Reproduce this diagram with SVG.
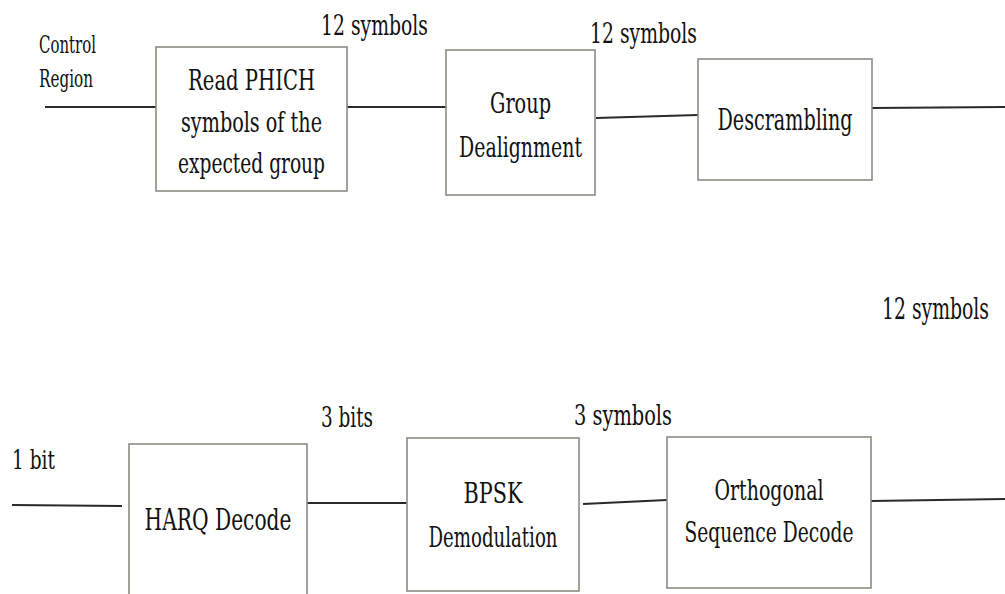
<svg xmlns="http://www.w3.org/2000/svg" width="1005" height="594" viewBox="0 0 1005 594">
<style>
.box{fill:#fff;stroke:#8c8c84;stroke-width:1.6}
.ln{stroke:#2a2a2a;stroke-width:2;fill:none}
.t{font-family:'DejaVu Serif','Liberation Serif',serif;font-size:24px;fill:#111}
.s{font-size:18.7px}
.m{text-anchor:middle}
</style>
<rect width="1005" height="594" fill="#fff"/>
<g id="connectors">
<line class="ln" x1="45" y1="107" x2="156" y2="107"/>
<line class="ln" x1="347" y1="107" x2="446" y2="107"/>
<line class="ln" x1="596" y1="118" x2="698" y2="115"/>
<line class="ln" x1="872" y1="108" x2="1005" y2="107"/>
<line class="ln" x1="12" y1="505" x2="122" y2="506"/>
<line class="ln" x1="307" y1="503" x2="407" y2="503"/>
<line class="ln" x1="583" y1="504" x2="667" y2="500"/>
<line class="ln" x1="871" y1="501" x2="1005" y2="499"/>
</g>
<g id="labels" class="t">
<text class="s" transform="translate(39 53) scale(1 1.25)" textLength="57" lengthAdjust="spacingAndGlyphs">Control</text>
<text class="s" transform="translate(39 87) scale(1 1.25)" textLength="54" lengthAdjust="spacingAndGlyphs">Region</text>
<text transform="translate(321 35) scale(1 1.15)" textLength="107" lengthAdjust="spacingAndGlyphs">12 symbols</text>
<text transform="translate(590 43) scale(1 1.15)" textLength="107" lengthAdjust="spacingAndGlyphs">12 symbols</text>
<text style="font-size:19px" transform="translate(882 319) scale(1 1.58)" textLength="107" lengthAdjust="spacingAndGlyphs">12 symbols</text>
<text transform="translate(12 469) scale(1 1.1)" textLength="43" lengthAdjust="spacingAndGlyphs">1 bit</text>
<text transform="translate(321 427) scale(1 1.15)" textLength="52" lengthAdjust="spacingAndGlyphs">3 bits</text>
<text transform="translate(574 425) scale(1 1.15)" textLength="98" lengthAdjust="spacingAndGlyphs">3 symbols</text>
</g>
<g id="read-phich" class="t">
<rect class="box" x="156" y="47" width="191" height="144"/>
<text class="m" transform="translate(251.5 90) scale(1 1.2)" textLength="127" lengthAdjust="spacingAndGlyphs">Read PHICH</text>
<text class="m" transform="translate(251.5 131.5) scale(1 1.2)" textLength="141" lengthAdjust="spacingAndGlyphs">symbols of the</text>
<text class="m" transform="translate(251.5 173) scale(1 1.2)" textLength="147" lengthAdjust="spacingAndGlyphs">expected group</text>
</g>
<g id="group-dealignment" class="t">
<rect class="box" x="446" y="50" width="149" height="145"/>
<text class="m" transform="translate(520.5 113) scale(1 1.2)" textLength="61" lengthAdjust="spacingAndGlyphs">Group</text>
<text class="m" transform="translate(520.5 157) scale(1 1.2)" textLength="123" lengthAdjust="spacingAndGlyphs">Dealignment</text>
</g>
<g id="descrambling" class="t">
<rect class="box" x="698" y="59" width="174" height="121"/>
<text class="m" transform="translate(785 130) scale(1 1.25)" textLength="135" lengthAdjust="spacingAndGlyphs">Descrambling</text>
</g>
<g id="harq-decode" class="t">
<rect class="box" x="129" y="444" width="178" height="170"/>
<text class="m" transform="translate(218 530) scale(1 1.25)" textLength="147" lengthAdjust="spacingAndGlyphs">HARQ Decode</text>
</g>
<g id="bpsk-demodulation" class="t">
<rect class="box" x="407" y="438" width="172" height="153"/>
<text class="m" transform="translate(493 503) scale(1 1.2)" textLength="59" lengthAdjust="spacingAndGlyphs">BPSK</text>
<text class="m" transform="translate(493 547) scale(1 1.2)" textLength="129" lengthAdjust="spacingAndGlyphs">Demodulation</text>
</g>
<g id="orthogonal-sequence-decode" class="t">
<rect class="box" x="667" y="437" width="204" height="151"/>
<text class="m" transform="translate(769 500) scale(1 1.2)" textLength="109" lengthAdjust="spacingAndGlyphs">Orthogonal</text>
<text class="m" transform="translate(769 542) scale(1 1.2)" textLength="169" lengthAdjust="spacingAndGlyphs">Sequence Decode</text>
</g>
</svg>
